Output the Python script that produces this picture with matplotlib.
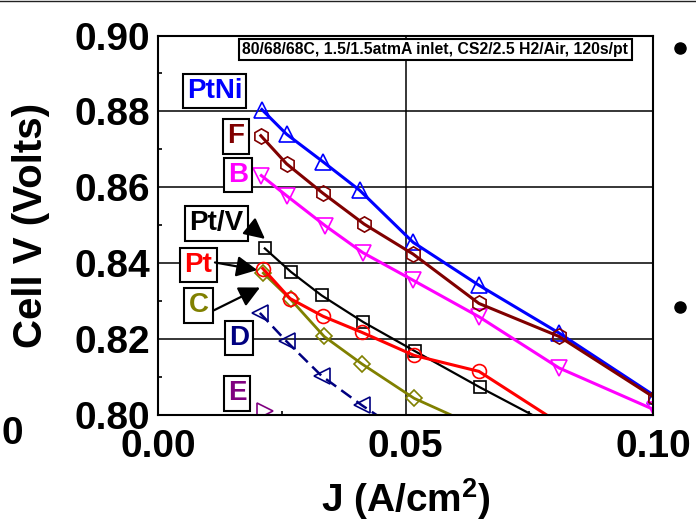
import numpy as np
import matplotlib
matplotlib.use("Agg")
import matplotlib.pyplot as plt
from matplotlib.lines import Line2D

plt.rcParams['font.family'] = ['Liberation Sans', 'DejaVu Sans']
plt.rcParams['font.weight'] = 'bold'
plt.rcParams['mathtext.fontset'] = 'custom'
plt.rcParams['mathtext.rm'] = 'Liberation Sans:bold'
plt.rcParams['mathtext.bf'] = 'Liberation Sans:bold'

# polarization data: current density (A/cm2), cell voltage (V)
j_ptni = [0.0209, 0.0259, 0.0332, 0.0407, 0.0515, 0.0648, 0.0810, 0.1004]
v_ptni = [0.8805, 0.8740, 0.8668, 0.8592, 0.8455, 0.8342, 0.8216, 0.8050]

j_f = [0.0207, 0.0259, 0.0332, 0.0416, 0.0515, 0.0648, 0.0810, 0.1004]
v_f = [0.8736, 0.8662, 0.8585, 0.8503, 0.8424, 0.8294, 0.8207, 0.8045]

j_b = [0.0208, 0.0259, 0.0337, 0.0413, 0.0515, 0.0648, 0.0810, 0.1004]
v_b = [0.8631, 0.8578, 0.8499, 0.8428, 0.8355, 0.8259, 0.8124, 0.8013]

j_ptv = [0.0215, 0.0268, 0.0330, 0.0414, 0.0519, 0.0650, 0.0810]
v_ptv = [0.8439, 0.8377, 0.8315, 0.8245, 0.8168, 0.8073, 0.7963]

j_pt = [0.0211, 0.0266, 0.0333, 0.0411, 0.0517, 0.0648, 0.0810]
v_pt = [0.8386, 0.8307, 0.8260, 0.8218, 0.8157, 0.8115, 0.7979]

j_c = [0.0212, 0.0267, 0.0335, 0.0411, 0.0517, 0.0648]
v_c = [0.8374, 0.8305, 0.8207, 0.8135, 0.8044, 0.7967]

j_d = [0.0205, 0.0259, 0.0330, 0.0411, 0.0517]
v_d = [0.8269, 0.8194, 0.8103, 0.8026, 0.7934]

j_e = [0.0215]
v_e = [0.8011]

x_ticks = [0.00, 0.05, 0.10]
x_ticklabels = ['0.00', '0.05', '0.10']
y_ticks = [0.80, 0.82, 0.84, 0.86, 0.88, 0.90]
y_ticklabels = ['0.80', '0.82', '0.84', '0.86', '0.88', '0.90']

conditions = '80/68/68C, 1.5/1.5atmA inlet, CS2/2.5 H2/Air, 120s/pt'

fig = plt.figure(figsize=(6.96, 5.27), dpi=100)
ax = fig.add_axes([0.2277, 0.2125, 0.7105, 0.7201])

ax.plot(j_ptni, v_ptni, color='#0000FF', lw=2.2, marker='^', ms=12, mfc='none', mew=1.2)
ax.plot(j_b, v_b, color='#FF00FF', lw=2.2, marker='v', ms=12, mfc='none', mew=1.2)
ax.plot(j_f, v_f, color='#800000', lw=2.2, marker='h', ms=11, mfc='none', mew=1.2)
ax.plot(j_ptv, v_ptv, color='black', lw=1.6, marker='s', ms=8.5, mfc='none', mew=1.2)
ax.plot(j_c, v_c, color='#808000', lw=2.0, marker='D', ms=8, mfc='none', mew=1.2)
ax.plot(j_pt, v_pt, color='#FF0000', lw=2.2, marker='o', ms=10, mfc='none', mew=1.2)
ax.plot(j_d, v_d, color='#000080', lw=1.8, marker='<', ms=11, mfc='none', mew=1.2,
        dashes=[5, 2.5])
ax.plot(j_e, v_e, color='#800080', lw=1.6, marker='>', ms=11, mfc='none', mew=1.2,
        ls='none')

ax.set_xlim(0, 0.10)
ax.set_ylim(0.80, 0.90)
ax.set_xticks(x_ticks)
ax.set_xticklabels(x_ticklabels)
ax.set_yticks(y_ticks)
ax.set_yticklabels(y_ticklabels)
ax.set_xticks([0.025, 0.075], minor=True)
ax.set_yticks([0.81, 0.83, 0.85, 0.87, 0.89], minor=True)
ax.tick_params(which='major', length=0, labelsize=28, pad=6)
ax.tick_params(axis='x', which='major', pad=10)
ax.tick_params(which='minor', direction='in', length=3, width=1.2)
ax.grid(True, which='major', color='black', lw=1.1)
for sp in ax.spines.values():
    sp.set_linewidth(1.5)

ax.set_xlabel(r'J (A/cm$^{2}$)', fontsize=28, fontweight='bold')
ax.xaxis.set_label_coords(0.5, -0.162)
ax.set_ylabel('Cell V (Volts)', fontsize=29, fontweight='bold')
ax.yaxis.set_label_coords(-0.22, 0.5)

box = dict(boxstyle='square,pad=0.15', fc='white', ec='black', lw=1.5)
labels = [
    ('PtNi', 0.01133, 0.8854, '#0000FF'),
    ('F', 0.01567, 0.8734, '#800000'),
    ('B', 0.01607, 0.8632, '#FF00FF'),
    ('Pt/V', 0.01173, 0.8505, 'black'),
    ('Pt', 0.00809, 0.8395, '#FF0000'),
    ('C', 0.00809, 0.8289, '#808000'),
    ('D', 0.01628, 0.8203, '#000080'),
    ('E', 0.01587, 0.8057, '#800080'),
]
for s, x, y, c in labels:
    ax.text(x, y, s, color=c, fontsize=20, fontweight='bold',
            ha='center', va='center', bbox=box, zorder=5)

arrows = [
    ((0.0187, 0.8494), (0.02154, 0.8464)),
    ((0.01142, 0.8402), (0.01998, 0.8382)),
    ((0.01122, 0.8276), (0.02053, 0.8336)),
]
for tail, tip in arrows:
    ax.annotate('', xy=tip, xytext=tail, zorder=6,
                arrowprops=dict(arrowstyle='-|>,head_length=0.7,head_width=0.35',
                                color='black', lw=1.6, mutation_scale=18,
                                shrinkA=0, shrinkB=0))

ax.text(0.0560, 0.8963, conditions, fontsize=11.3, fontweight='bold',
        ha='center', va='center', zorder=5,
        bbox=dict(boxstyle='square,pad=0.2', fc='white', ec='black', lw=1.5))

# bits of the surrounding slide
fig.add_artist(Line2D([0, 1], [1 - 1 / 527, 1 - 1 / 527], transform=fig.transFigure,
                      color='#222222', lw=1))
fig.text(12 / 696, 1 - 434 / 527, '0', fontsize=28, fontweight='bold',
         ha='center', va='center')
for by in (48, 307):
    fig.add_artist(Line2D([680 / 696], [1 - by / 527], transform=fig.transFigure,
                          marker='o', ms=8, color='black', ls='none'))

fig.savefig('out.png', dpi=100)
